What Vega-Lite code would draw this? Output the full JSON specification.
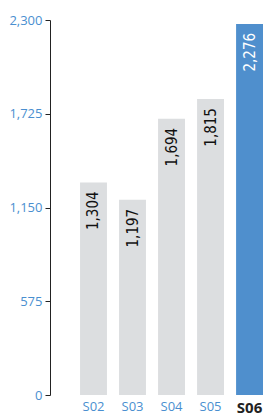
{
  "$schema": "https://vega.github.io/schema/vega-lite/v6.json",
  "autosize": "none",
  "padding": {"left": 50, "top": 20, "right": 0, "bottom": 25},
  "width": 213,
  "height": 375,
  "background": "white",
  "config": {"view": {"stroke": null}, "font": "Open Sans"},
  "data": {"values": [
    {"s": "S02", "v": 1304, "hl": "no"},
    {"s": "S03", "v": 1197, "hl": "no"},
    {"s": "S04", "v": 1694, "hl": "no"},
    {"s": "S05", "v": 1815, "hl": "no"},
    {"s": "S06", "v": 2276, "hl": "yes"}
  ]},
  "encoding": {
    "x": {"field": "s", "type": "nominal", "sort": null,
      "scale": {"paddingInner": 0.31, "paddingOuter": 0.385, "align": 1},
      "axis": {"title": null, "domain": false, "ticks": false, "labelAngle": 0, "labelPadding": 5,
        "labelFontSize": {"condition": {"test": "datum.value == 'S06'", "value": 15}, "value": 13},
        "labelFontWeight": {"condition": {"test": "datum.value == 'S06'", "value": "bold"}, "value": "normal"},
        "labelColor": {"condition": {"test": "datum.value == 'S06'", "value": "#222222"}, "value": "#4a8fd0"}}},
    "y": {"field": "v", "type": "quantitative",
      "scale": {"domain": [0, 2300], "nice": false},
      "axis": {"title": null, "values": [0, 575, 1150, 1725, 2300], "format": ",d", "grid": false,
        "domainColor": "#222222", "tickColor": "#222222", "tickSize": 5, "labelPadding": 3,
        "labelColor": "#4a8fd0", "labelFontSize": 13}}
  },
  "layer": [
    {"mark": {"type": "bar"},
     "encoding": {"color": {"field": "hl", "type": "nominal", "legend": null,
       "scale": {"domain": ["no", "yes"], "range": ["#dcdee0", "#4f8fcd"]}}}},
    {"mark": {"type": "text", "angle": 270, "align": "right", "baseline": "middle", "dx": -9, "font": "DejaVu Sans Condensed, Roboto, sans-serif", "fontSize": 15},
     "encoding": {"text": {"field": "v", "type": "quantitative", "format": ",d"},
       "color": {"field": "hl", "type": "nominal", "legend": null,
         "scale": {"domain": ["no", "yes"], "range": ["#111111", "#ffffff"]}},
       "fontWeight": {"condition": {"test": "datum.hl == 'yes'", "value": "bold"}, "value": "normal"}}}
  ],
  "resolve": {"scale": {"color": "independent"}}
}
